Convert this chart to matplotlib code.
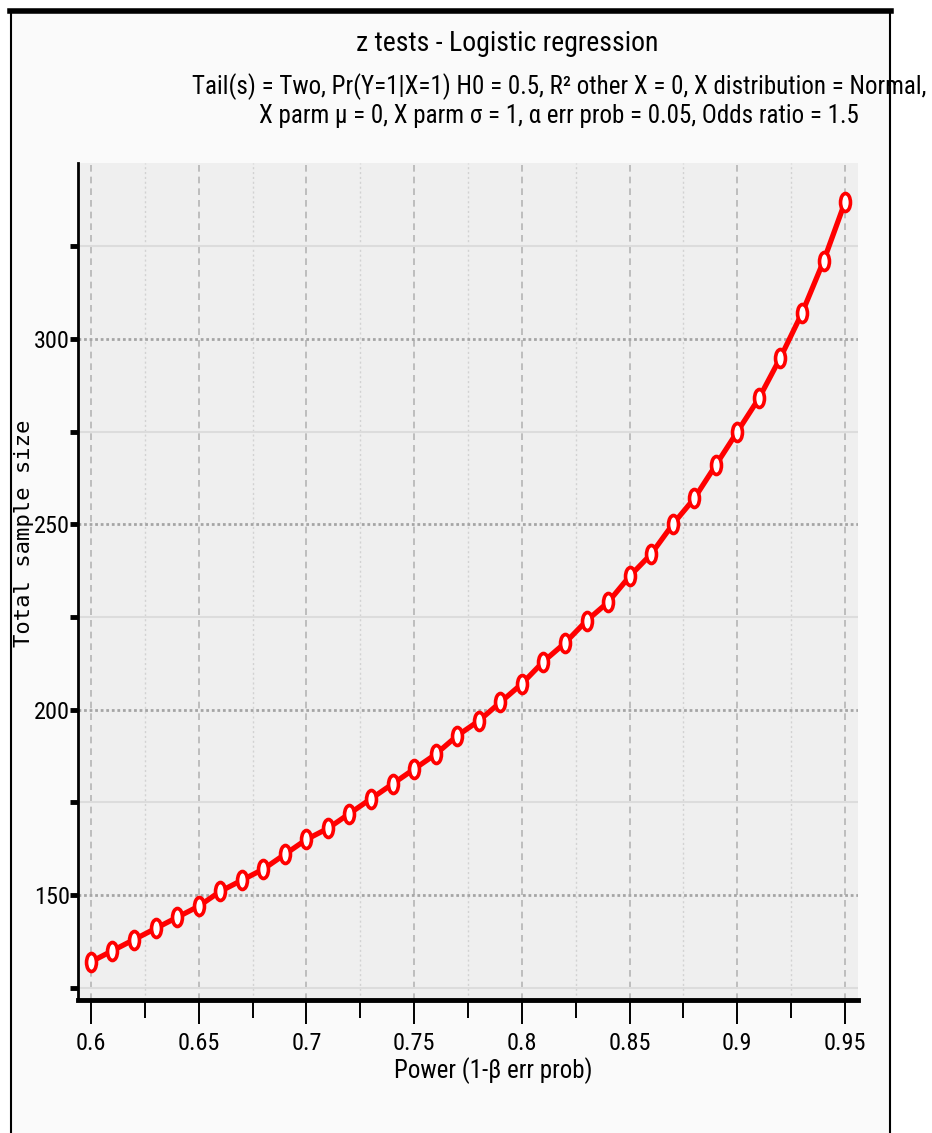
import matplotlib
matplotlib.use("Agg")
import matplotlib.pyplot as plt
from matplotlib.path import Path
from matplotlib.transforms import Affine2D
from matplotlib.lines import Line2D
from matplotlib.patches import Rectangle
from matplotlib.ticker import FixedLocator

power = [0.60, 0.61, 0.62, 0.63, 0.64, 0.65, 0.66, 0.67, 0.68, 0.69,
         0.70, 0.71, 0.72, 0.73, 0.74, 0.75, 0.76, 0.77, 0.78, 0.79,
         0.80, 0.81, 0.82, 0.83, 0.84, 0.85, 0.86, 0.87, 0.88, 0.89,
         0.90, 0.91, 0.92, 0.93, 0.94, 0.95]
sample_size = [132, 135, 138, 141, 144, 147, 151, 154, 157, 161,
               165, 168, 172, 176, 180, 184, 188, 193, 197, 202,
               207, 213, 218, 224, 229, 236, 242, 250, 257, 266,
               275, 284, 295, 307, 321, 337]

x_major = [0.6, 0.65, 0.7, 0.75, 0.8, 0.85, 0.9, 0.95]
x_labels = ['0.6', '0.65', '0.7', '0.75', '0.8', '0.85', '0.9', '0.95']
x_minor = [0.625, 0.675, 0.725, 0.775, 0.825, 0.875, 0.925]
y_major = [150, 200, 250, 300]
y_minor = [125, 175, 225, 275, 325]

title = 'z tests - Logistic regression'
subtitle = ('Tail(s) = Two, Pr(Y=1|X=1) H0 = 0.5, R² other X = 0, X distribution = Normal,\n'
            'X parm μ = 0, X parm σ = 1, α err prob = 0.05, Odds ratio = 1.5')

narrow = ['Roboto Condensed', 'DejaVu Sans']

fig = plt.figure(figsize=(9.32, 11.33), dpi=100, facecolor='white')

# panel frame like the G*Power window
fig.add_artist(Rectangle((11 / 932, 0), 879 / 932, 1 - 11 / 1133,
                         transform=fig.transFigure, facecolor='#fafafa',
                         edgecolor='none', zorder=-10))
fig.add_artist(Line2D([10 / 932, 891 / 932], [1 - 11 / 1133] * 2,
                      transform=fig.transFigure, color='black', lw=4))
fig.add_artist(Line2D([11 / 932] * 2, [0, 1 - 11 / 1133],
                      transform=fig.transFigure, color='black', lw=1.5))
fig.add_artist(Line2D([890 / 932] * 2, [0, 1 - 11 / 1133],
                      transform=fig.transFigure, color='black', lw=1.5))

ax = fig.add_axes([78 / 932, 1 - 1000 / 1133, 780 / 932, 837 / 1133])
ax.set_facecolor('#efefef')

# squashed circle marker, the reference is compressed sideways
ellipse = Affine2D().scale(0.55, 1.0).transform_path(Path.unit_circle())

ax.plot(power, sample_size, color='#ff0000', lw=3.8, marker=ellipse,
        ms=13, mfc='white', mec='#ff0000', mew=2.6, zorder=3)

ax.set_xlim(0.594, 0.956)
ax.set_ylim(121.7, 347.5)

ax.xaxis.set_major_locator(FixedLocator(x_major))
ax.xaxis.set_minor_locator(FixedLocator(x_minor))
ax.set_xticklabels(x_labels)
ax.yaxis.set_major_locator(FixedLocator(y_major))
ax.yaxis.set_minor_locator(FixedLocator(y_minor))

ax.set_axisbelow(True)
ax.grid(which='major', axis='x', color='#b5b5b5', ls=(0, (4, 3)), lw=1.2)
ax.grid(which='minor', axis='x', color='#d2d2d2', ls=(0, (1.5, 2)), lw=1)
ax.grid(which='major', axis='y', color='#a5a5a5', ls=(0, (1, 1)), lw=2)
ax.grid(which='minor', axis='y', color='#dcdcdc', ls='-', lw=1.5)

for s in ['top', 'right']:
    ax.spines[s].set_visible(False)
ax.spines['left'].set_linewidth(2)
ax.spines['bottom'].set_linewidth(3.5)

ax.tick_params(axis='x', which='major', direction='out', length=17, width=1.4, pad=6)
ax.tick_params(axis='x', which='minor', direction='out', length=13, width=1.4)
ax.tick_params(axis='y', which='both', direction='out', length=6, width=3.5, pad=0)
for lab in ax.get_xticklabels() + ax.get_yticklabels():
    lab.set_family(narrow)
    lab.set_fontsize(17.5)

ax.set_xlabel('Power (1-β err prob)', family=narrow, fontsize=18)
ax.xaxis.set_label_coords(0.532, -0.068)
ax.set_ylabel('Total sample size', family='DejaVu Sans Mono', fontsize=16)
ax.yaxis.set_label_coords(-0.057, 0.558)

fig.text(0.544, 1 - 51 / 1133, title, ha='center', va='baseline', family=narrow, fontsize=20)
fig.text(0.6, 1 - 73 / 1133, subtitle, ha='center', va='top', family=narrow,
         fontsize=18, linespacing=1.2, multialignment='center')

fig.savefig('out.png', dpi=100, facecolor=fig.get_facecolor())
